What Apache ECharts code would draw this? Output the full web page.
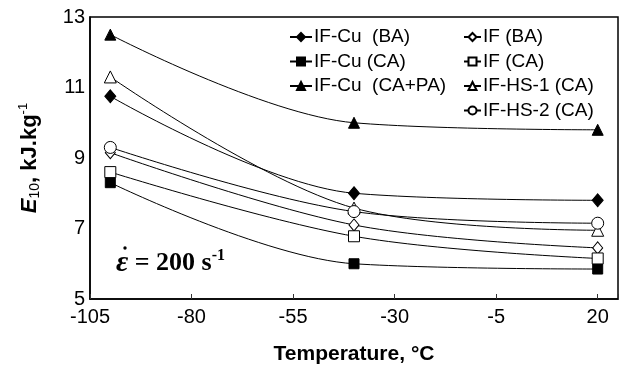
<!DOCTYPE html>
<html>
<head>
<meta charset="utf-8">
<script src="https://cdn.jsdelivr.net/npm/echarts@6/dist/echarts.min.js"></script>
<style>
  html, body { margin: 0; padding: 0; background: #fff; }
  #chart { width: 628px; height: 372px; }
</style>
</head>
<body>
<div id="chart"></div>
<script>
// temperatures (°C) where E10 was measured
const temps = [-100, -40, 20];

// E10 values, kJ/kg
const ifCuBA   = [10.75, 8.0, 7.8];
const ifCuCA   = [8.3, 6.0, 5.85];
const ifCuCAPA = [12.5, 10.0, 9.8];
const ifBA     = [9.15, 7.1, 6.45];
const ifCA     = [8.6, 6.78, 6.15];
const ifHS1CA  = [11.3, 7.58, 6.95];
const ifHS2CA  = [9.3, 7.48, 7.15];

const xTicks = [-105, -80, -55, -30, -5, 20];
const yTicks = [5, 7, 9, 11, 13];

const FONT = '"Liberation Sans", Arial, sans-serif';
const SERIF = '"Liberation Serif", "Times New Roman", serif';
const INK = '#000';

const diamond = 'path://M5 0 L10 6 L5 12 L0 6 Z';

function pairs(ys) {
  return temps.map((t, i) => [t, ys[i]]);
}

function line(name, ys, symbol, size, filled) {
  return {
    name,
    type: 'line',
    data: pairs(ys),
    smooth: 0.35,
    symbol,
    symbolSize: size,
    showAllSymbol: true,
    lineStyle: { color: INK, width: 1 },
    itemStyle: { color: filled ? INK : '#fff', borderColor: INK, borderWidth: 1 },
    z: 3
  };
}

const series = [
  line('IF-Cu  (BA)', ifCuBA, diamond, [11, 13], true),
  line('IF-Cu (CA)', ifCuCA, 'rect', 10, true),
  line('IF-Cu  (CA+PA)', ifCuCAPA, 'triangle', 11, true),
  line('IF (BA)', ifBA, diamond, [10, 12], false),
  line('IF (CA)', ifCA, 'rect', 11, false),
  line('IF-HS-1 (CA)', ifHS1CA, 'triangle', 12, false),
  line('IF-HS-2 (CA)', ifHS2CA, 'circle', 12, false)
];

const legendBase = {
  orient: 'vertical',
  itemHeight: 10,
  itemGap: 4.5,
  textStyle: { fontFamily: FONT, fontSize: 19, lineHeight: 20, color: INK, padding: [0, 0, 0, -3] },
  inactiveColor: '#000'
};

const chart = echarts.init(document.getElementById('chart'), null, { renderer: 'canvas' });
chart.setOption({
  animation: false,
  backgroundColor: '#fff',
  grid: {
    left: 90, right: 10, top: 17, bottom: 73,
    show: true, borderColor: INK, borderWidth: 1.5, backgroundColor: 'transparent'
  },
  legend: [
    Object.assign({}, legendBase, {
      left: 284, top: 22, itemWidth: 22,
      data: series.slice(0, 3).map(s => s.name)
    }),
    Object.assign({}, legendBase, {
      left: 458, top: 22, itemWidth: 17,
      data: series.slice(3).map(s => s.name)
    })
  ],
  xAxis: {
    type: 'value',
    min: -105,
    max: 25,
    interval: 25,
    axisLine: { show: true, onZero: false, lineStyle: { color: INK, width: 1.5 } },
    axisTick: { show: true, inside: true, length: 5, lineStyle: { color: '#333' } },
    splitLine: { show: false },
    axisLabel: {
      fontFamily: FONT, fontSize: 20, color: INK, margin: 8,
      formatter: v => (xTicks.indexOf(v) >= 0 ? String(v) : '')
    },
    name: 'Temperature, °C',
    nameLocation: 'middle',
    nameGap: 45,
    nameTextStyle: { fontFamily: FONT, fontSize: 21, fontWeight: 'bold', color: INK }
  },
  yAxis: {
    type: 'value',
    min: 5,
    max: 13,
    interval: 2,
    axisLine: { show: true, onZero: false, lineStyle: { color: INK, width: 1.5 } },
    axisTick: { show: false },
    splitLine: { show: false },
    axisLabel: {
      fontFamily: FONT, fontSize: 20, color: INK, margin: 5,
      formatter: v => (yTicks.indexOf(v) >= 0 ? String(v) : '')
    }
  },
  graphic: [
    {
      type: 'text',
      x: 30, y: 158,
      rotation: Math.PI / 2,
      style: {
        text: '{e|E}{s|10}{t|, kJ.kg}{p|-1}',
        align: 'center',
        verticalAlign: 'middle',
        rich: {
          e: { fontFamily: FONT, fontSize: 22, fontWeight: 'bold', fontStyle: 'italic', fill: INK, lineHeight: 30, verticalAlign: 'middle' },
          s: { fontFamily: FONT, fontSize: 14, fill: INK, lineHeight: 30, verticalAlign: 'bottom', padding: [0, 0, 3, 0] },
          t: { fontFamily: FONT, fontSize: 22, fontWeight: 'bold', fill: INK, lineHeight: 30, verticalAlign: 'middle' },
          p: { fontFamily: FONT, fontSize: 13, fill: INK, lineHeight: 30, verticalAlign: 'top', padding: [2, 0, 0, 0] }
        }
      }
    },
    {
      type: 'text',
      x: 116, y: 263,
      style: {
        text: '{e|ε}{t| = 200 s}{p|-1}',
        verticalAlign: 'middle',
        rich: {
          e: { fontFamily: SERIF, fontSize: 30, fontStyle: 'italic', fontWeight: 'bold', fill: INK, lineHeight: 32, verticalAlign: 'middle' },
          t: { fontFamily: SERIF, fontSize: 26, fontWeight: 'bold', fill: INK, lineHeight: 32, verticalAlign: 'middle' },
          p: { fontFamily: SERIF, fontSize: 16, fontWeight: 'bold', fill: INK, lineHeight: 32, verticalAlign: 'top', padding: [1, 0, 0, 0] }
        }
      }
    },
    {
      type: 'circle',
      shape: { cx: 125, cy: 248, r: 1.7 },
      style: { fill: INK }
    }
  ],
  series
});
</script>
</body>
</html>
